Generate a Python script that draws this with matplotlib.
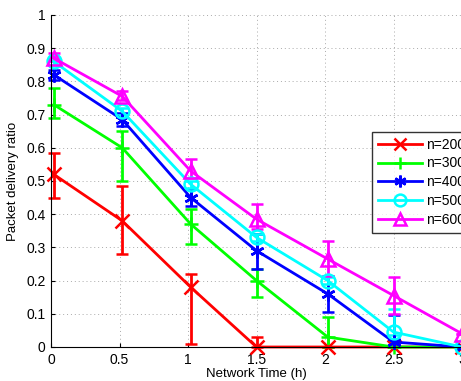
import matplotlib
matplotlib.use("Agg")
import matplotlib.pyplot as plt

plt.rcParams['font.family'] = ['Liberation Sans', 'DejaVu Sans']

# network time (h), points sit a bit right of the ticks in the original
hours = [0.02, 0.52, 1.02, 1.5, 2.02, 2.5, 3.0]
labels = ["n=200", "n=300", "n=400", "n=500", "n=600"]

pdr_200 = [0.52, 0.38, 0.18, 0.0, 0.0, 0.0, 0.0]
lo_200 = [0.07, 0.10, 0.17, 0.0, 0.0, 0.0, 0.0]
hi_200 = [0.065, 0.105, 0.04, 0.03, 0.0, 0.0, 0.0]

pdr_300 = [0.73, 0.60, 0.37, 0.20, 0.03, 0.0, 0.0]
lo_300 = [0.04, 0.10, 0.06, 0.05, 0.03, 0.0, 0.0]
hi_300 = [0.05, 0.05, 0.045, 0.035, 0.06, 0.0, 0.0]

pdr_400 = [0.82, 0.685, 0.45, 0.29, 0.16, 0.015, 0.0]
lo_400 = [0.015, 0.02, 0.025, 0.055, 0.055, 0.015, 0.0]
hi_400 = [0.015, 0.02, 0.025, 0.05, 0.055, 0.08, 0.0]

pdr_500 = [0.86, 0.71, 0.49, 0.33, 0.20, 0.045, 0.0]
lo_500 = [0.01, 0.01, 0.01, 0.01, 0.01, 0.01, 0.0]
hi_500 = [0.01, 0.01, 0.01, 0.01, 0.01, 0.07, 0.0]

pdr_600 = [0.87, 0.755, 0.53, 0.385, 0.265, 0.155, 0.04]
lo_600 = [0.01, 0.01, 0.02, 0.03, 0.05, 0.055, 0.0]
hi_600 = [0.015, 0.015, 0.035, 0.045, 0.055, 0.055, 0.0]

series = [
    (pdr_200, lo_200, hi_200, (1, 0, 0), 'x'),
    (pdr_300, lo_300, hi_300, (0, 1, 0), '+'),
    (pdr_400, lo_400, hi_400, (0, 0, 1), (6, 2, 0)),
    (pdr_500, lo_500, hi_500, (0, 1, 1), 'o'),
    (pdr_600, lo_600, hi_600, (1, 0, 1), '^'),
]

fig = plt.figure(figsize=(4.61, 3.81), dpi=100)
ax = fig.add_axes([51 / 461, 1 - 347 / 381, 411 / 461, 332 / 381])

handles = []
for (y, lo, hi, col, mk), lab in zip(series, labels):
    eb = ax.errorbar(hours, y, yerr=[lo, hi], color=col, lw=2, capsize=4,
                     capthick=2, elinewidth=2, marker=mk, markersize=10,
                     markeredgewidth=1.8, markerfacecolor='none',
                     markeredgecolor=col, label=lab, clip_on=False)
    handles.append(eb.lines[0])

ax.set_xlim(0, 3)
ax.set_ylim(0, 1)
ax.set_xticks([0, 0.5, 1, 1.5, 2, 2.5, 3])
ax.set_xticklabels(['0', '0.5', '1', '1.5', '2', '2.5', '3'])
ax.set_yticks([i / 10 for i in range(11)])
ax.set_yticklabels(['0', '0.1', '0.2', '0.3', '0.4', '0.5', '0.6', '0.7',
                    '0.8', '0.9', '1'])
ax.tick_params(direction='in', length=3, labelsize=10, pad=4)
ax.grid(True, linestyle=(0, (1, 3)), color='#aaaaaa', lw=0.7)
ax.spines['top'].set_visible(False)
ax.spines['right'].set_visible(False)
ax.set_xlabel('Network Time (h)', fontsize=9.5, labelpad=1)
ax.set_ylabel('Packet delivery ratio', fontsize=9.5, labelpad=5)

leg = fig.legend(handles, labels, loc='upper left',
                 bbox_to_anchor=(372 / 461, 1 - 132 / 381), fontsize=10,
                 frameon=True, fancybox=False, edgecolor='black',
                 handlelength=3.2, borderpad=0.4, labelspacing=0.35,
                 handletextpad=0.3, borderaxespad=0, markerscale=0.85)
leg.get_frame().set_linewidth(1.0)

fig.savefig('out.png', dpi=100)
